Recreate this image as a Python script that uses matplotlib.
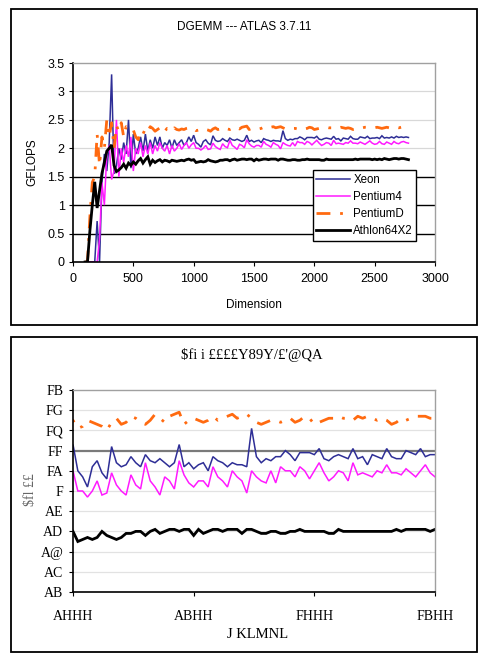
import matplotlib
matplotlib.use("Agg")
import matplotlib.pyplot as plt
from matplotlib.patches import Rectangle

plt.rcParams['font.family'] = ['Liberation Sans', 'DejaVu Sans']

# ---------------- data ----------------
dims = list(range(100, 2781, 20))

xeon = [
    0, 0, 0, 0, 0, 0.72, 0, 1.4, 1.9, 1.6,
    2.1, 3.3, 1.55, 1.7, 2.0, 1.8, 2.1, 1.9, 2.5, 1.65,
    2.25, 1.9, 2.0, 2.2, 1.95, 2.25, 1.95, 2.15, 2.0, 2.2,
    2.05, 2.2, 2.0, 2.1, 2.05, 2.15, 2.0, 2.15, 2.05, 2.1,
    2.15, 2.05, 2.1, 2.2, 2.12, 2.23, 2.10, 2.07, 2.02, 2.12,
    2.15, 2.09, 2.06, 2.22, 2.14, 2.12, 2.13, 2.17, 2.14, 2.12,
    2.18, 2.15, 2.14, 2.16, 2.14, 2.12, 2.14, 2.23, 2.12, 2.14,
    2.11, 2.13, 2.14, 2.10, 2.17, 2.15, 2.14, 2.12, 2.14, 2.13,
    2.13, 2.12, 2.31, 2.17, 2.14, 2.16, 2.15, 2.17, 2.17, 2.20,
    2.18, 2.15, 2.19, 2.19, 2.19, 2.18, 2.21, 2.16, 2.15, 2.17,
    2.18, 2.17, 2.16, 2.21, 2.16, 2.17, 2.13, 2.18, 2.17, 2.16,
    2.21, 2.17, 2.16, 2.16, 2.20, 2.19, 2.18, 2.21, 2.17, 2.18,
    2.18, 2.19, 2.17, 2.22, 2.18, 2.19, 2.18, 2.20, 2.18, 2.21,
    2.19, 2.20, 2.19, 2.20, 2.19,
]

pentium4 = [
    0, 0, 0, 0, 0, 0, 0.4, 1.4, 1.0, 1.9,
    2.05, 1.45, 1.6, 2.5, 1.5, 2.0, 1.75, 2.05, 1.85, 2.2,
    1.6, 2.0, 1.9, 2.1, 1.85, 2.05, 1.9, 2.1, 1.9, 2.05,
    1.95, 2.1, 2.0, 1.95, 2.05, 1.9, 2.05, 1.95, 2.0, 2.08,
    1.98, 2.05, 2.1, 2.0, 2.06, 2.10, 2.00, 2.00, 1.97, 2.0,
    2.05, 1.98, 1.99, 2.09, 2.03, 2.00, 1.98, 2.08, 2.03, 2.01,
    2.14, 2.05, 2.02, 1.98, 2.07, 2.05, 2.01, 2.15, 2.08, 2.04,
    2.02, 2.05, 2.05, 2.02, 2.12, 2.07, 2.05, 2.02, 2.10, 2.07,
    2.05, 1.99, 2.10, 2.07, 2.05, 2.04, 2.10, 2.04, 2.12, 2.10,
    2.10, 2.07, 2.12, 2.10, 2.06, 2.10, 2.14, 2.09, 2.05, 2.07,
    2.10, 2.09, 2.05, 2.14, 2.08, 2.09, 2.08, 2.07, 2.10, 2.09,
    2.13, 2.09, 2.09, 2.08, 2.11, 2.09, 2.07, 2.10, 2.13, 2.09,
    2.07, 2.08, 2.12, 2.08, 2.07, 2.11, 2.09, 2.07, 2.12, 2.09,
    2.08, 2.11, 2.12, 2.10, 2.09,
]

pentiumd = [
    0, 0, 0.8, 1.4, 1.5, 2.25, 1.7, 2.2, 2.0, 2.5,
    2.2, 2.45, 2.0, 2.4, 2.3, 2.45, 2.2, 2.38, 2.35, 2.37,
    2.32, 2.2, 2.15, 2.3, 2.25, 2.35, 2.3, 2.38, 2.35, 2.3,
    2.33, 2.36, 2.38, 2.3, 2.35, 2.34, 2.3, 2.36, 2.33, 2.32,
    2.34, 2.33, 2.35, 2.36, 2.34, 2.35, 2.31, 2.32, 2.35, 2.34,
    2.33, 2.32, 2.30, 2.34, 2.36, 2.33, 2.34, 2.37, 2.36, 2.34,
    2.33, 2.35, 2.38, 2.36, 2.34, 2.37, 2.38, 2.39, 2.33, 2.35,
    2.36, 2.35, 2.34, 2.35, 2.37, 2.35, 2.36, 2.37, 2.38, 2.36,
    2.37, 2.38, 2.36, 2.34, 2.33, 2.34, 2.35, 2.35, 2.34, 2.35,
    2.36, 2.34, 2.35, 2.37, 2.36, 2.33, 2.34, 2.35, 2.36, 2.36,
    2.37, 2.36, 2.36, 2.35, 2.37, 2.36, 2.37, 2.36, 2.35, 2.36,
    2.35, 2.33, 2.34, 2.36, 2.35, 2.36, 2.37, 2.37, 2.37, 2.36,
    2.36, 2.37, 2.36, 2.35, 2.36, 2.37, 2.36, 2.35, 2.36, 2.37,
    2.36, 2.37, 2.36, 2.35, 2.33,
]

athlon = [
    0, 0, 0.55, 1.0, 1.41, 0.95, 1.25, 1.56, 1.75, 1.95,
    2.0, 2.06, 1.7, 1.59, 1.62, 1.66, 1.72, 1.65, 1.74, 1.70,
    1.76, 1.72, 1.78, 1.82, 1.74, 1.80, 1.85, 1.72, 1.79, 1.75,
    1.78, 1.80, 1.76, 1.79, 1.78, 1.76, 1.79, 1.78, 1.77, 1.78,
    1.79, 1.78, 1.80, 1.81, 1.79, 1.80, 1.75, 1.76, 1.77, 1.76,
    1.77, 1.80, 1.78, 1.77, 1.76, 1.77, 1.79, 1.79, 1.80, 1.80,
    1.78, 1.80, 1.81, 1.79, 1.80, 1.81, 1.81, 1.80, 1.81, 1.81,
    1.78, 1.81, 1.79, 1.80, 1.81, 1.81, 1.80, 1.81, 1.81, 1.81,
    1.79, 1.81, 1.81, 1.80, 1.79, 1.79, 1.80, 1.80, 1.79, 1.79,
    1.80, 1.80, 1.81, 1.80, 1.80, 1.80, 1.80, 1.80, 1.79, 1.79,
    1.81, 1.80, 1.80, 1.80, 1.80, 1.80, 1.80, 1.80, 1.80, 1.80,
    1.80, 1.80, 1.81, 1.80, 1.81, 1.81, 1.81, 1.81, 1.81, 1.80,
    1.81, 1.80, 1.81, 1.80, 1.82, 1.81, 1.80, 1.81, 1.82, 1.82,
    1.81, 1.82, 1.82, 1.81, 1.80,
]

series_names = ["Xeon", "Pentium4", "PentiumD", "Athlon64X2"]

top_title = "DGEMM --- ATLAS 3.7.11"
top_xlabel = "Dimension"
top_ylabel = "GFLOPS"
top_xticks = [0, 500, 1000, 1500, 2000, 2500, 3000]
top_yticks = [0, 0.5, 1, 1.5, 2, 2.5, 3, 3.5]
top_yticklabels = ["0", "0.5", "1", "1.5", "2", "2.5", "3", "3.5"]

# second panel: zoomed view, rendered with garbled glyphs in the original
bot_title = "$fi i ££££Y89Y/£'@QA"
bot_xlabel = "J KLMNL"
bot_ylabel = "$fl ££"
bot_xticks = [1000, 1500, 2000, 2500]
bot_xticklabels = ["AHHH", "ABHH", "FHHH", "FBHH"]
bot_yticks = [1.5, 1.6, 1.7, 1.8, 1.9, 2.0, 2.1, 2.2, 2.3, 2.4, 2.5]
bot_yticklabels = ["AB", "AC", "A@", "AD", "AE", "F", "FA", "FF", "FQ", "FG", "FB"]

colors = {"Xeon": "#2e2e96", "Pentium4": "#ff1aff", "PentiumD": "#ff6a10", "Athlon64X2": "#000000"}
ydata = {"Xeon": xeon, "Pentium4": pentium4, "PentiumD": pentiumd, "Athlon64X2": athlon}

# ---------------- figure ----------------
fig = plt.figure(figsize=(4.82, 6.56), dpi=100)
W, H = 482, 656

def fx(px):
    return px / W

def fy(py):
    return 1 - py / H

# outer frames
for (x0, y0, x1, y1) in [(11, 9, 477, 325), (11, 337, 477, 652)]:
    fig.add_artist(Rectangle((fx(x0), fy(y1)), fx(x1) - fx(x0), fy(y0) - fy(y1),
                             transform=fig.transFigure, fill=False, edgecolor="black", lw=1.3))


def plot_series(ax):
    for name in series_names:
        kw = dict(color=colors[name], label=name, solid_joinstyle="miter")
        if name in ("Xeon", "Pentium4"):
            ax.plot(dims, ydata[name], lw=1.1, **kw)
        elif name == "PentiumD":
            ax.plot(dims, ydata[name], lw=2.0, dashes=[5, 3.5, 1, 3.5], **kw)
        else:
            ax.plot(dims, ydata[name], lw=2.0, **kw)


def style_axes(ax):
    for s in ["top", "right"]:
        ax.spines[s].set_color("#a0a0a0")
        ax.spines[s].set_linewidth(1.0)
    for s in ["left", "bottom"]:
        ax.spines[s].set_color("black")
        ax.spines[s].set_linewidth(1.2)
    ax.tick_params(direction="out", length=3, width=0.8, color="black", pad=3)

# ---- top panel ----
ax1 = fig.add_axes([fx(73), fy(262), fx(435) - fx(73), fy(63) - fy(262)])
ax1.set_xlim(0, 3000)
ax1.set_ylim(0, 3.5)
for yv in top_yticks[1:-1]:
    if yv <= 1.5:
        ax1.axhline(yv, color="black", lw=1.0, zorder=0.5)
    else:
        ax1.axhline(yv, color="#d8d8d8", lw=0.9, zorder=0.5)
plot_series(ax1)
ax1.set_xticks(top_xticks)
ax1.set_xticklabels([str(t) for t in top_xticks], fontsize=9)
ax1.set_yticks(top_yticks)
ax1.set_yticklabels(top_yticklabels, fontsize=9)
style_axes(ax1)
ax1.tick_params(axis="x", pad=5)
fig.text(fx(244), fy(27), top_title, ha="center", va="center", fontsize=8.5)
fig.text(fx(254), fy(305), top_xlabel, ha="center", va="center", fontsize=8.5)
fig.text(fx(32), fy(162), top_ylabel, ha="center", va="center", rotation=90, fontsize=8.5)
leg = ax1.legend(loc="upper left", bbox_to_anchor=(0.663, 0.46), fontsize=8.3,
                 frameon=True, fancybox=False, edgecolor="black", framealpha=1,
                 handlelength=2.9, handletextpad=0.3, borderpad=0.3, labelspacing=0.45,
                 borderaxespad=0)
leg.get_frame().set_linewidth(1.0)

# ---- bottom panel ----
serif = ["Liberation Serif", "DejaVu Serif"]
ax2 = fig.add_axes([fx(73), fy(592), fx(435) - fx(73), fy(390) - fy(592)])
ax2.set_xlim(1000, 2500)
ax2.set_ylim(1.5, 2.5)
for yv in bot_yticks[1:-1]:
    if abs(yv - 2.2) < 1e-6:
        ax2.axhline(yv, color="#7a7a7a", lw=1.6, zorder=0.5)
    else:
        ax2.axhline(yv, color="#e2e2e2", lw=0.9, zorder=0.5)
plot_series(ax2)
ax2.set_xticks(bot_xticks)
ax2.set_xticklabels(bot_xticklabels, fontsize=10, family=serif)
ax2.set_yticks(bot_yticks)
ax2.set_yticklabels(bot_yticklabels, fontsize=10, family=serif)
style_axes(ax2)
ax2.tick_params(axis="x", pad=10)
ax2.tick_params(axis="y", pad=4)
fig.text(fx(252), fy(355), bot_title, ha="center", va="center", fontsize=10.5, family=serif)
fig.text(fx(258), fy(634), bot_xlabel, ha="center", va="center", fontsize=10.5, family=serif)
fig.text(fx(31), fy(490), bot_ylabel, ha="center", va="center", rotation=90, fontsize=10,
         family=serif, color="#666666")

fig.savefig("out.png", dpi=100)
